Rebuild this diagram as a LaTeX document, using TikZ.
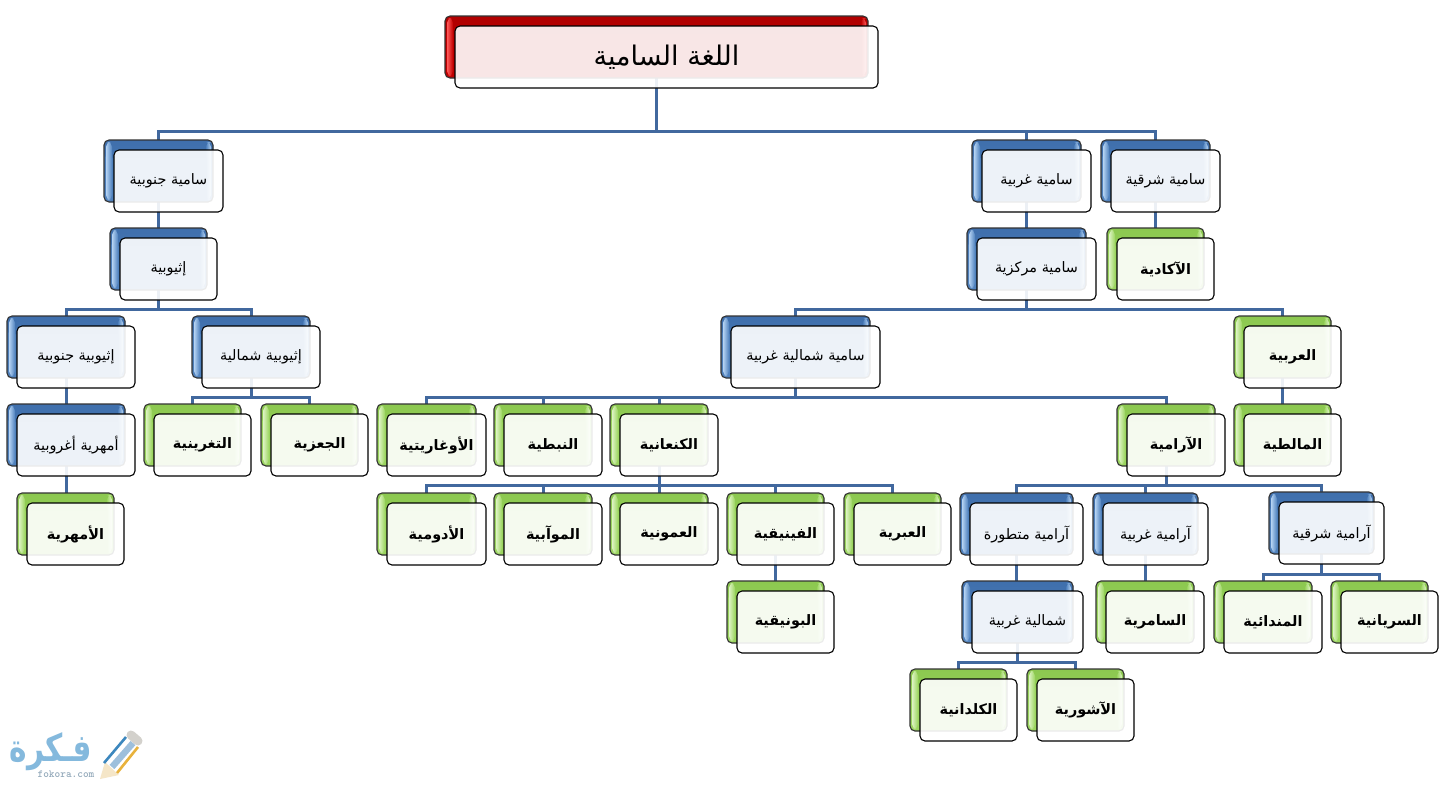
\documentclass[tikz,border=0pt]{standalone}
\usepackage{fontspec}
\usetikzlibrary{calc}
\TeXXeTstate=1
\newfontfamily\arabicfont[Script=Arabic]{DejaVu Sans}
\definecolor{connc}{HTML}{41689E}
\definecolor{bluebase}{HTML}{4F81BD}
\definecolor{bluetop}{HTML}{3F6FAC}
\definecolor{bluelight}{HTML}{B5D3F3}
\definecolor{greenbase}{HTML}{9BD55F}
\definecolor{greentop}{HTML}{8CC850}
\definecolor{greenlight}{HTML}{DDF3C3}
\definecolor{redbase}{HTML}{C00000}
\definecolor{redtop}{HTML}{B00000}
\definecolor{redlight}{HTML}{FF5A5A}
\definecolor{logoblue}{HTML}{84B9DD}
\definecolor{logogray}{HTML}{93A9BA}
\definecolor{pencilblue}{HTML}{3C87BE}
\definecolor{pencilmid}{HTML}{9DBFDC}
\definecolor{pencilorange}{HTML}{E8B23C}
\definecolor{penciltip}{HTML}{F5E6C8}
\definecolor{pencilend}{HTML}{D3D1CC}
\pgfdeclarelayer{backboxes}
\pgfdeclarelayer{frontboxes}
\pgfsetlayers{main,backboxes,frontboxes}
\tikzset{
  conn/.style={draw=connc,line width=1.5pt,line join=miter},
  frontbox/.style={draw=black,line width=.55pt,rounded corners=2.5pt,fill=white,fill opacity=.9,text opacity=1,inner sep=0pt,outer sep=0pt,align=center},
  backbox/.style={draw=black!80,line width=.55pt,rounded corners=2.5pt,inner sep=0pt,outer sep=0pt},
  gloss/.style n args={3}{backbox,fill=#1,path picture={
    \fill[top color=#2,bottom color=#1] (path picture bounding box.north west) rectangle ([yshift=-9pt]path picture bounding box.north east);
    \fill[left color=#3,right color=#1] ([xshift=1pt,yshift=-1pt]path picture bounding box.north west) rectangle ([xshift=4pt,yshift=1pt]path picture bounding box.south west);
    \fill[left color=#1,right color=#3] ([xshift=-3.5pt,yshift=-1pt]path picture bounding box.north east) rectangle ([xshift=-1pt,yshift=1pt]path picture bounding box.south east);
  }},
  glossblue/.style={gloss={bluebase}{bluetop}{bluelight}},
  glossgreen/.style={gloss={greenbase}{greentop}{greenlight}},
  glossred/.style={gloss={redbase}{redtop}{redlight}},
  labelblue/.style={font=\arabicfont\fontsize{7.2}{9}\selectfont},
  labelgreen/.style={font=\arabicfont\fontsize{7.2}{9}\bfseries\selectfont},
  labelred/.style={font=\arabicfont\fontsize{13.5}{16}\selectfont},
}
% name, x1, y1, x2, y2 of the front box (pixels), colour, text
\newcommand{\treebox}[7]{%
  \pgfmathsetmacro{\bxw}{(#4-#2)*0.5}%
  \pgfmathsetmacro{\bxh}{(#5-#3)*0.5}%
  \pgfmathsetmacro{\bxx}{(#2+#4)/2}%
  \pgfmathsetmacro{\bxy}{(#3+#5)/2}%
  \begin{pgfonlayer}{backboxes}
    \node[gloss#6,minimum width=\bxw pt,minimum height=\bxh pt] (#1) at ({\bxx-10},{\bxy-10}) {};
  \end{pgfonlayer}
  \begin{pgfonlayer}{frontboxes}
    \node[frontbox,label#6,minimum width=\bxw pt,minimum height=\bxh pt] (#1f) at (\bxx,\bxy) {#7};
  \end{pgfonlayer}
}
\newcommand{\bus}[3]{\draw[conn] (#1.south) -- (#1.south |- 0,#2) -| (#3.north);}
\newcommand{\drop}[2]{\draw[conn] (#1.south) -- (#1.south |- #2.north);}
\begin{document}
\begin{tikzpicture}[x=.5pt,y=-.5pt]
\useasboundingbox (0,0) rectangle (1440,794);
\fill[white] (0,0) rectangle (1440,794);
\treebox{root}{455}{26}{878}{88}{red}{\raisebox{1pt}{\beginR اللغة السامية\endR}}
\treebox{south}{114}{150}{223}{212}{blue}{\beginR سامية جنوبية\endR}
\treebox{west}{982}{150}{1091}{212}{blue}{\beginR سامية غربية\endR}
\treebox{east}{1111}{150}{1220}{212}{blue}{\beginR سامية شرقية\endR}
\treebox{ethiopic}{120}{238}{217}{300}{blue}{\beginR إثيوبية\endR}
\treebox{central}{977}{238}{1096}{300}{blue}{\beginR سامية مركزية\endR}
\treebox{akkadian}{1117}{238}{1214}{300}{green}{\beginR الآكادية\endR}
\treebox{ethsouth}{17}{326}{135}{388}{blue}{\beginR إثيوبية جنوبية\endR}
\treebox{ethnorth}{202}{326}{320}{388}{blue}{\beginR إثيوبية شمالية\endR}
\treebox{nwest}{731}{326}{880}{388}{blue}{\beginR سامية شمالية غربية\endR}
\treebox{arabic}{1244}{326}{1341}{388}{green}{\beginR العربية\endR}
\treebox{mehri}{17}{414}{135}{476}{blue}{\beginR أمهرية أغروبية\endR}
\treebox{tigrinya}{154}{414}{251}{476}{green}{\beginR التغرينية\endR}
\treebox{geez}{271}{414}{368}{476}{green}{\beginR الجعزية\endR}
\treebox{ugaritic}{387}{414}{486}{476}{green}{\beginR الأوغاريتية\endR}
\treebox{nabataean}{504}{414}{602}{476}{green}{\beginR النبطية\endR}
\treebox{canaanite}{620}{414}{718}{476}{green}{\beginR الكنعانية\endR}
\treebox{aramaic}{1127}{414}{1225}{476}{green}{\beginR الآرامية\endR}
\treebox{maltese}{1244}{414}{1341}{476}{green}{\beginR المالطية\endR}
\treebox{amharic}{27}{503}{124}{565}{green}{\beginR الأمهرية\endR}
\treebox{edomite}{387}{503}{486}{565}{green}{\beginR الأدومية\endR}
\treebox{moabite}{504}{503}{602}{565}{green}{\beginR الموآبية\endR}
\treebox{ammonite}{620}{503}{718}{565}{green}{\beginR العمونية\endR}
\treebox{phoenician}{737}{503}{834}{565}{green}{\beginR الفينيقية\endR}
\treebox{hebrew}{854}{503}{951}{565}{green}{\beginR العبرية\endR}
\treebox{aradv}{970}{503}{1083}{565}{blue}{\beginR آرامية متطورة\endR}
\treebox{arwest}{1103}{503}{1208}{565}{blue}{\beginR آرامية غربية\endR}
\treebox{areast}{1279}{502}{1384}{564}{blue}{\beginR آرامية شرقية\endR}
\treebox{punic}{737}{591}{834}{653}{green}{\beginR البونيقية\endR}
\treebox{nwest2}{972}{591}{1083}{653}{blue}{\beginR شمالية غربية\endR}
\treebox{samaritan}{1106}{591}{1204}{653}{green}{\beginR السامرية\endR}
\treebox{mandaic}{1224}{591}{1322}{653}{green}{\beginR المندائية\endR}
\treebox{syriac}{1341}{591}{1438}{653}{green}{\beginR السريانية\endR}
\treebox{chaldean}{920}{679}{1017}{741}{green}{\beginR الكلدانية\endR}
\treebox{assyrian}{1037}{679}{1134}{741}{green}{\beginR الآشورية\endR}
% connectors
\bus{root}{131}{south}\bus{root}{131}{west}\bus{root}{131}{east}
\drop{south}{ethiopic}\drop{west}{central}\drop{east}{akkadian}
\bus{ethiopic}{309}{ethsouth}\bus{ethiopic}{309}{ethnorth}
\drop{ethsouth}{mehri}\drop{mehri}{amharic}
\bus{ethnorth}{397}{tigrinya}\bus{ethnorth}{397}{geez}
\bus{central}{309}{nwest}\bus{central}{309}{arabic}
\drop{arabic}{maltese}
\bus{nwest}{397}{ugaritic}\bus{nwest}{397}{nabataean}\bus{nwest}{397}{canaanite}\bus{nwest}{397}{aramaic}
\bus{canaanite}{485}{edomite}\bus{canaanite}{485}{moabite}\bus{canaanite}{485}{ammonite}\bus{canaanite}{485}{phoenician}\bus{canaanite}{485}{hebrew}
\drop{phoenician}{punic}
\bus{aramaic}{485}{aradv}\bus{aramaic}{485}{arwest}\bus{aramaic}{485}{areast}
\drop{aradv}{nwest2}\drop{arwest}{samaritan}
\bus{areast}{574}{mandaic}\bus{areast}{574}{syriac}
\bus{nwest2}{662}{chaldean}\bus{nwest2}{662}{assyrian}
% logo
\node[text=logoblue,font=\arabicfont\fontsize{19}{20}\bfseries\selectfont,inner sep=0pt] (logotext) at (51,752) {\scalebox{.78}[1]{\beginR فـكرة\endR}};
\node[text=logogray,font=\fontsize{5.4}{6}\bfseries\ttfamily\selectfont,inner sep=0pt] (logourl) at (66,774) {fokora.com};
\fill[penciltip] (100,779) -- (105,762) -- (119,775) -- cycle;
\draw[line width=1.3pt,color=pencilblue] (104,763) -- (126,737);
\draw[line width=3.2pt,color=pencilmid] (112,767) -- (133,743);
\draw[line width=1.3pt,color=pencilorange] (117,773) -- (138,747);
\draw[line width=4.5pt,line cap=round,color=pencilend] (131,735) -- (138,741);
\end{tikzpicture}
\end{document}
